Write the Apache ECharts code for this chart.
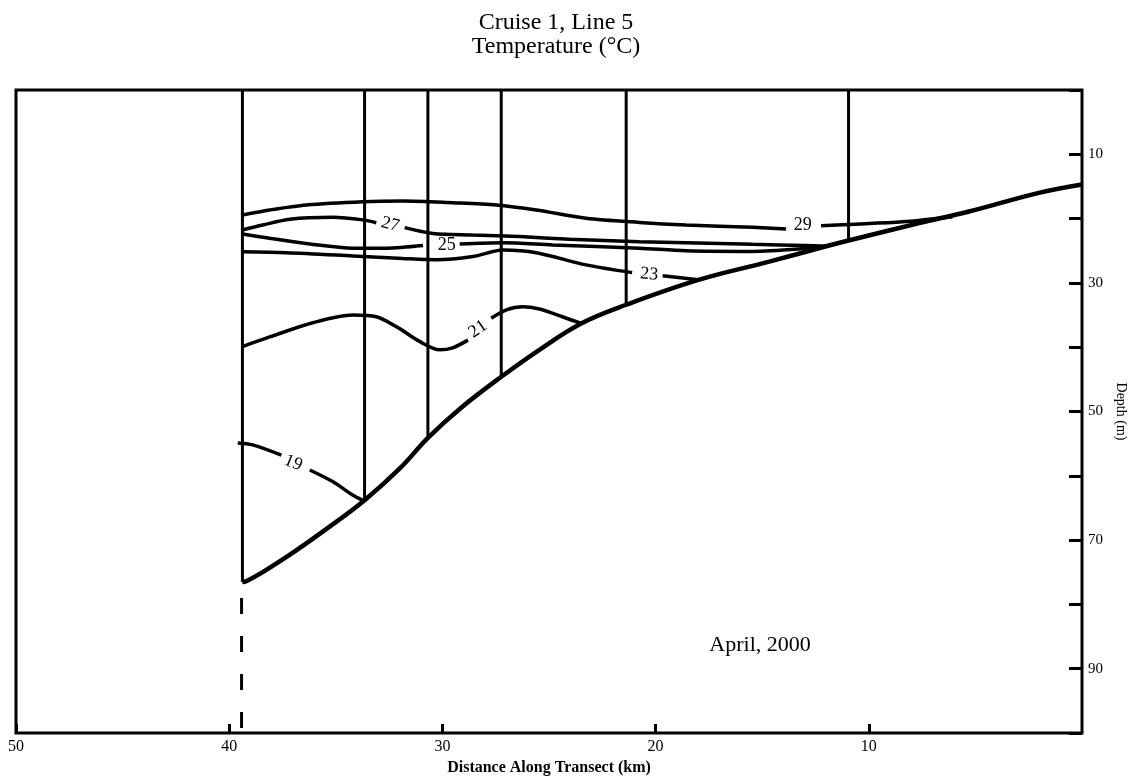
<!DOCTYPE html>
<html><head><meta charset="utf-8">
<script src="https://cdn.jsdelivr.net/npm/echarts@6/dist/echarts.min.js"></script>
<style>html,body{margin:0;padding:0;background:#fff}#c{width:1136px;height:782px}</style>
</head><body><div id="c"></div>
<script>
// ---- data ----
const titleLines = ['Cruise 1, Line 5', 'Temperature (°C)'];
const xAxisName = 'Distance Along Transect (km)';
const yAxisName = 'Depth (m)';
const annotationText = 'April, 2000';
const annotationPos = [15.1, 86.3];
const xTickLabels = ['50', '40', '30', '20', '10'];
const yTickLabels = ['10', '30', '50', '70', '90'];

const stationKm = [39.38, 33.65, 30.68, 27.24, 21.38, 10.95];
const stationBottom = [76.5, 63.8, 53.9, 44.6, 33.4, 23.4];

const bottomProfile = [[39.38,76.5],[39.2,76.4],[37.31,72.6],[35.29,67.9],[33.65,63.8],[32.01,58.9],[30.68,54.1],[29.19,49.6],[27.24,44.6],[25.45,40.4],[23.49,36.3],[21.38,33.4],[17.95,29.5],[14.67,26.7],[12.0,24.3],[10.95,23.4],[7.64,20.7],[5.30,18.9],[2.02,16.0],[0,14.7]];
const extrapolatedBottom = [[39.42,79.0],[39.42,100]];

const c29a = [[39.38,19.44],[38.10,18.66],[36.38,17.88],[33.73,17.37],[31.85,17.26],[29.51,17.53],[27.47,17.88],[25.60,18.66],[23.26,19.95],[20.76,20.6],[18.57,21.0],[15.45,21.35],[13.88,21.6]];
const c29b = [[12.24,21.1],[10.92,20.9],[8.42,20.5],[6.08,19.7]];
const c27a = [[39.38,21.77],[38.43,21.0],[37.16,20.1],[35.13,19.8],[33.73,20.2],[33.10,20.64]];
const c27b = [[31.77,21.4],[30.45,22.3],[28.57,22.55],[26.38,22.8],[24.04,23.2],[20.76,23.6],[18.57,23.75],[15.45,24.0],[12.95,24.2],[12.0,24.3]];
const c25a = [[39.38,22.4],[38.10,23.06],[36.22,23.95],[34.19,24.6],[32.63,24.6],[30.91,24.2]];
const c25b = [[29.19,23.95],[27.16,23.75],[24.82,24.1],[20.76,24.6],[18.57,25.0],[15.45,25.1],[12.79,24.6],[12.0,24.3]];
const c23a = [[39.38,25.15],[37.31,25.3],[34.19,25.8],[31.85,26.2],[30.29,26.4],[28.57,25.9],[27.16,24.9],[25.60,25.3],[23.26,27.2],[21.1,28.4]];
const c23b = [[19.67,28.88],[18.0,29.5]];
const c21a = [[39.38,39.9],[38.10,38.4],[36.08,36.2],[34.21,35.0],[33.10,35.26],[32.16,36.8],[31.07,39.1],[30.13,40.4],[29.52,40.1],[28.8,38.9]];
const c21b = [[27.71,35.5],[27.0,34.2],[26.24,33.7],[25.45,34.06],[24.37,35.26],[23.49,36.3]];
const c19a = [[39.6,54.9],[38.9,55.2],[37.55,56.8]];
const c19b = [[36.22,59.1],[35.15,60.9],[34.21,63.0],[33.74,63.8]];

const contourLevels = ['29', '27', '25', '23', '21', '19'];
const contourLabelKm = [13.1, 32.45, 29.8, 20.3, 28.33, 37.0];
const contourLabelDepth = [21.1, 20.9, 24.15, 28.65, 37.2, 58.0];

// ---- styling / drawing ----
const labelAngles = [0, -15, 0, -5, 35, -22];
const FONT = '"Liberation Serif", "Times New Roman", serif';
const INK = '#000';

function lineSeries(data, width, extra) {
  return Object.assign({
    type: 'line', data: data, symbol: 'none', silent: true, smooth: 0.3,
    lineStyle: { color: INK, width: width, cap: 'butt' }, z: 3
  }, extra || {});
}

const series = [];
stationKm.forEach((k, i) => {
  series.push(lineSeries([[k, 0], [k, stationBottom[i]]], 3, { smooth: false }));
});
[c29a, c29b, c27a, c27b, c25a, c25b, c23a, c23b, c21a, c21b, c19a, c19b].forEach(seg => {
  series.push(lineSeries(seg, 3.5));
});
series.push(lineSeries(bottomProfile, 4.5, { smooth: 0.4, z: 4 }));
series.push(lineSeries(extrapolatedBottom, 3, { smooth: false, lineStyle: { color: INK, width: 3, type: [16, 22] } }));

const textLabel = { show: true, position: 'inside', formatter: p => p.name, fontFamily: FONT,
  color: INK, textBorderWidth: 0, textShadowBlur: 0, fontWeight: 'normal' };
series.push({
  type: 'scatter', silent: true, symbol: 'circle', symbolSize: 0, z: 5,
  itemStyle: { color: INK, opacity: 1 },
  data: contourLabelKm.map((k, i) => ({
    name: contourLevels[i], value: [k, contourLabelDepth[i]],
    label: { rotate: labelAngles[i] }
  })),
  label: Object.assign({ fontSize: 18 }, textLabel)
});
series.push({
  type: 'scatter', silent: true, symbol: 'circle', symbolSize: 0, z: 5,
  itemStyle: { color: INK, opacity: 1 },
  data: [{ name: annotationText, value: annotationPos }],
  label: Object.assign({ fontSize: 22 }, textLabel)
});

const chart = echarts.init(document.getElementById('c'));
chart.setOption({
  animation: false,
  backgroundColor: '#fff',
  title: {
    text: titleLines.join('\n'), left: 551, top: 6, textAlign: 'center',
    textStyle: { fontFamily: FONT, fontSize: 24, fontWeight: 'normal', color: INK, lineHeight: 24 }
  },
  grid: { left: 16, right: 53, top: 90, bottom: 49, show: true, borderColor: INK, borderWidth: 3, backgroundColor: 'transparent' },
  xAxis: {
    type: 'value', min: 0, max: 50, interval: 10, inverse: true, position: 'bottom',
    name: xAxisName, nameLocation: 'middle', nameGap: 27,
    nameTextStyle: { fontFamily: FONT, fontSize: 16, fontWeight: 'bold', color: INK },
    axisLine: { show: false, onZero: false },
    axisTick: { inside: true, length: 9, lineStyle: { color: INK, width: 3 } },
    axisLabel: { fontFamily: FONT, fontSize: 16, color: INK, margin: 6, showMinLabel: false,
      formatter: v => xTickLabels.includes(String(v)) ? String(v) : '' },
    splitLine: { show: false }
  },
  yAxis: {
    type: 'value', min: 0, max: 100, interval: 10, inverse: true, position: 'right',
    name: yAxisName, nameLocation: 'middle', nameGap: 32, nameRotate: -90,
    nameTextStyle: { fontFamily: FONT, fontSize: 14, color: INK },
    axisLine: { show: false, onZero: false },
    axisTick: { inside: true, length: 13, lineStyle: { color: INK, width: 3 } },
    axisLabel: { fontFamily: FONT, fontSize: 15, color: INK, margin: 6,
      formatter: v => yTickLabels.includes(String(v)) ? String(v) : '' },
    splitLine: { show: false }
  },
  series: series
});
</script>
</body></html>
